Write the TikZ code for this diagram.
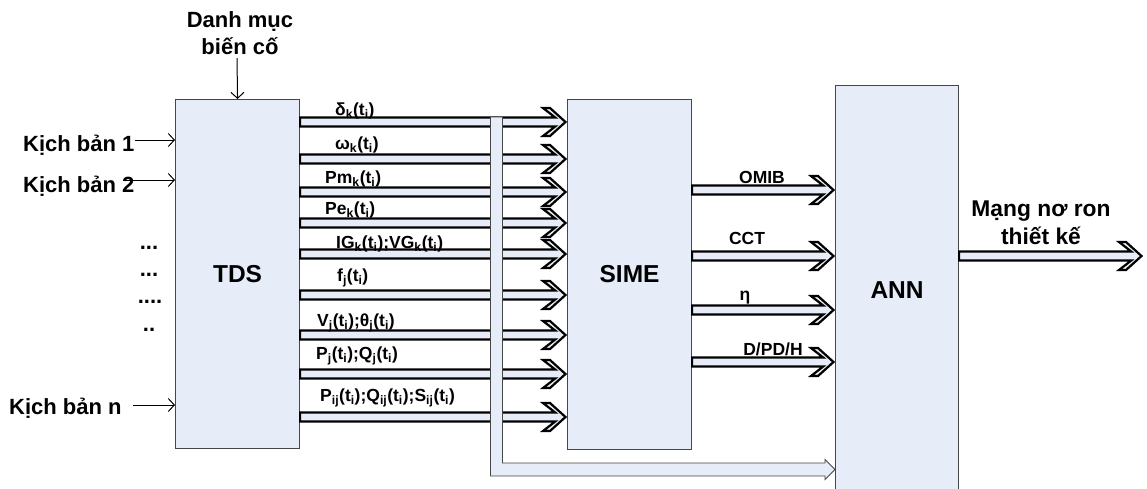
\documentclass[tikz,border=0pt]{standalone}
\usepackage{fontspec}
\setmainfont{Liberation Sans}
\usetikzlibrary{arrows.meta,calc}
\definecolor{boxfill}{RGB}{230,237,248}
\definecolor{boxline}{RGB}{70,70,70}
\tikzset{
  procbox/.style={draw=boxline,line width=1.1pt,fill=boxfill,rectangle,
    anchor=north west,inner sep=0pt,font=\fontsize{24.5}{28}\selectfont\bfseries},
  bigarrow/.style={draw=black,line width=2.2pt,fill=boxfill,line join=miter,
    to path={let \p1=(\tikztostart),\p2=(\tikztotarget) in
      (\x1,\y1+4.5pt) -- (\x2-11.8pt,\y1+4.5pt) -- (\x2-24pt,\y1+14pt)
      -- (\x2-17pt,\y1+14pt) -- (\x2-1.5pt,\y1) -- (\x2-17pt,\y1-14pt)
      -- (\x2-24pt,\y1-14pt) -- (\x2-11.8pt,\y1-4.5pt) -- (\x1,\y1-4.5pt) -- cycle}},
  busarrow/.style={draw=boxline,line width=0.9pt,fill=boxfill,
    to path={let \p1=(\tikztostart),\p2=(\tikztotarget) in
      (\x1-6pt,\y1) -- (\x1-6pt,\y2-6.5pt) -- (\x2-10pt,\y2-6.5pt)
      -- (\x2-10pt,\y2-10pt) -- (\x2,\y2) -- (\x2-10pt,\y2+10pt)
      -- (\x2-10pt,\y2+6.5pt) -- (\x1+6pt,\y2+6.5pt) -- (\x1+6pt,\y1) -- cycle}},
  thinarrow/.style={draw=black,line width=1pt,-{Straight Barb[length=6pt,width=13pt]}},
  sig/.style={anchor=west,inner sep=0pt,font=\fontsize{17.5}{20}\selectfont\bfseries},
  outlbl/.style={inner sep=0pt,font=\fontsize{17.5}{20}\selectfont\bfseries},
  side/.style={inner sep=0pt,align=center,font=\fontsize{22}{27}\selectfont\bfseries}
}
\begin{document}
\begin{tikzpicture}[x=1pt,y=-1pt]
  \useasboundingbox (0,0) rectangle (1147,488);

  % Blocks
  \node[procbox,minimum width=124pt,minimum height=349pt] (tds) at (175,99) {TDS};
  \node[procbox,minimum width=124pt,minimum height=350pt] (sime) at (567,99) {SIME};
  \node[procbox,minimum width=123pt,minimum height=410pt] (ann) at (835,85) {ANN};

  % Event list and scenarios into TDS
  \node[side] (events) at (240,33.5) {Danh mục\\biến cố};
  \coordinate (evtail) at (237,58);
  \draw[thinarrow] (evtail) -- (tds.north);
  \node[side,anchor=west] (sc1) at (23,145) {Kịch bản 1};
  \node[side,anchor=west] (sc2) at (23,186) {Kịch bản 2};
  \node[side,anchor=west] (scn) at (9,408) {Kịch bản n};
  \coordinate (s1) at (135,140);
  \coordinate (s2) at (123,180);
  \coordinate (sn) at (133,405);
  \foreach \ss in {s1,s2,sn}{
    \draw[thinarrow] (\ss) -- (\ss -| tds.west);
  }
  \node[side] (dots1) at (149,248) {...};
  \node[side] (dots2) at (149,275) {...};
  \node[side] (dots3) at (150,302) {....};
  \node[side] (dots4) at (149,330) {..};

  % TDS outputs into SIME
  \foreach \yy in {122,159,192,223,254,295,335,374,417}{
    \draw[bigarrow] (tds.east |- 0,\yy) to (sime.west |- 0,\yy);
  }
  \node[sig] (delta) at (335,111) {δ\textsubscript{k}(t\textsubscript{i})};
  \node[sig] (omega) at (335,145) {ω\textsubscript{k}(t\textsubscript{i})};
  \node[sig] (pm) at (325,179) {Pm\textsubscript{k}(t\textsubscript{i})};
  \node[sig] (pe) at (325,210) {Pe\textsubscript{k}(t\textsubscript{i})};
  \node[sig] (igvg) at (336,244) {IG\textsubscript{k}(t\textsubscript{i});VG\textsubscript{k}(t\textsubscript{i})};
  \node[sig] (freq) at (337,278) {f\textsubscript{j}(t\textsubscript{i})};
  \node[sig] (vth) at (317,323) {V\textsubscript{j}(t\textsubscript{i});θ\textsubscript{j}(t\textsubscript{i})};
  \node[sig] (pq) at (316,356) {P\textsubscript{j}(t\textsubscript{i});Q\textsubscript{j}(t\textsubscript{i})};
  \node[sig] (pqs) at (320,398) {P\textsubscript{ij}(t\textsubscript{i});Q\textsubscript{ij}(t\textsubscript{i});S\textsubscript{ij}(t\textsubscript{i})};

  % Bus from the TDS outputs straight to ANN
  \coordinate (bustop) at (496.5,117);
  \coordinate (busrow) at (0,469.5);
  \draw[busarrow] (bustop) to (ann.west |- busrow);

  % SIME outputs into ANN
  \foreach \yy in {190,256,310,362}{
    \draw[bigarrow] (sime.east |- 0,\yy) to (ann.west |- 0,\yy);
  }
  \node[outlbl] (omib) at (762,177) {OMIB};
  \node[outlbl] (cct) at (747,238) {CCT};
  \node[outlbl] (eta) at (745,298) {η};
  \node[outlbl] (dpdh) at (773,349) {D/PD/H};

  % Designed network out of ANN
  \coordinate (outtip) at (1143,256);
  \draw[bigarrow] (ann.east |- outtip) to (outtip);
  \node[side,font=\fontsize{22.8}{28}\selectfont\bfseries] (result) at (1041,223) {Mạng nơ ron\\thiết kế};
\end{tikzpicture}
\end{document}
